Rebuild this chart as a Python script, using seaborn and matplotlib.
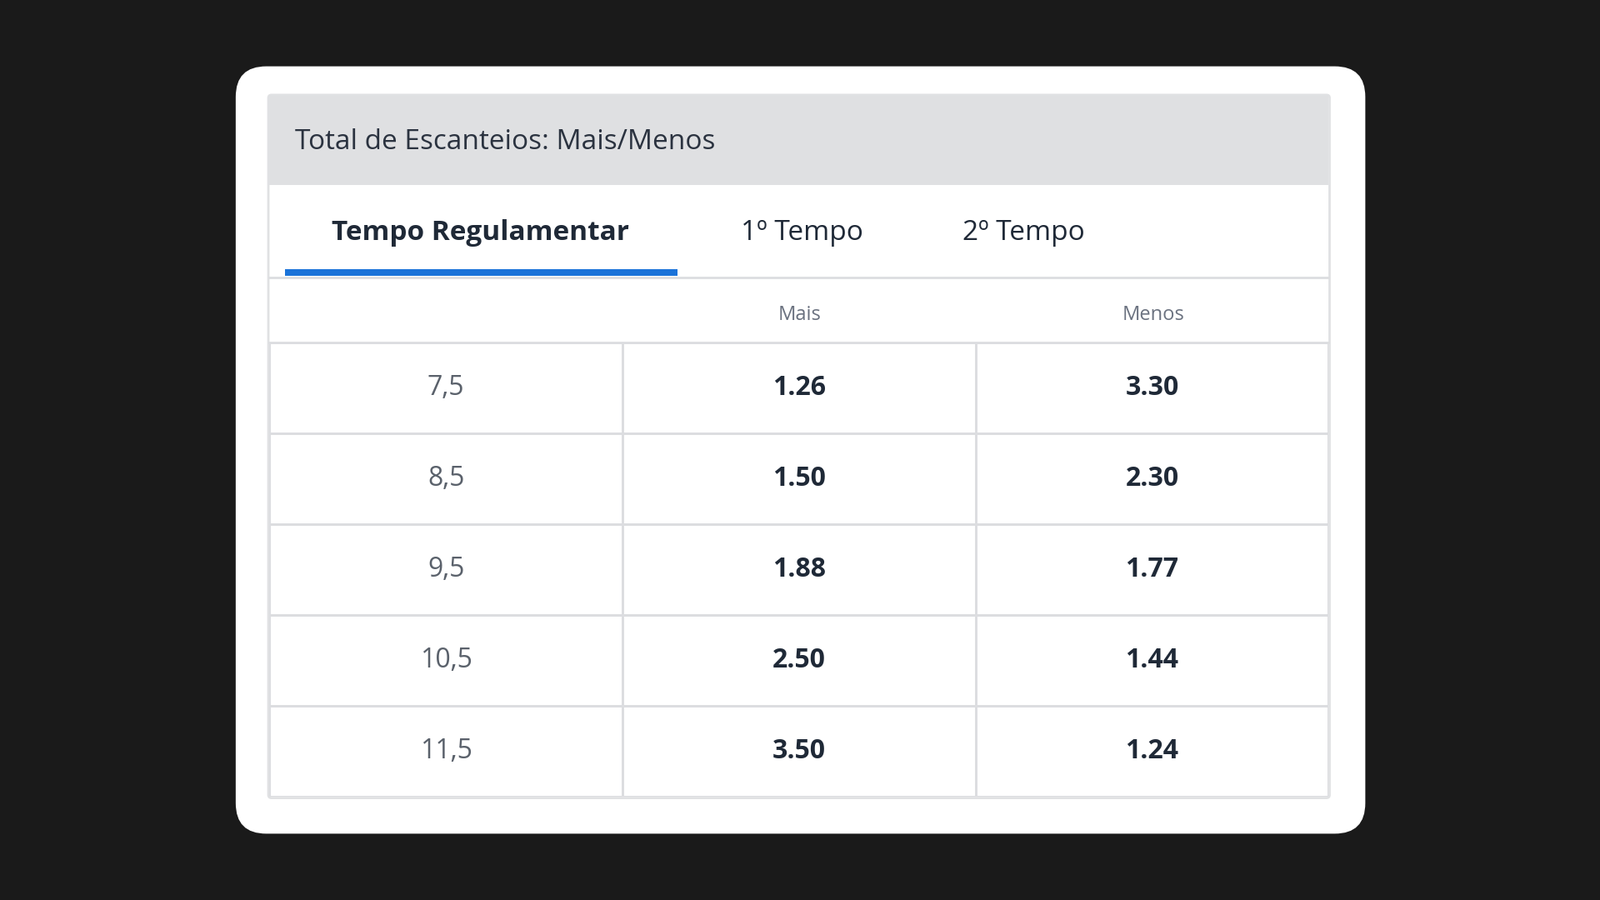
import numpy as np
import pandas as pd
import seaborn as sns
import matplotlib.pyplot as plt
from matplotlib.patches import FancyBboxPatch, Rectangle
from matplotlib.colors import ListedColormap

# Table data
title = 'Total de Escanteios: Mais/Menos'
tabs = ['Tempo Regulamentar', '1º Tempo', '2º Tempo']
columns = ['Mais', 'Menos']
lines = ['7,5', '8,5', '9,5', '10,5', '11,5']
mais = ['1.26', '1.50', '1.88', '2.50', '3.50']
menos = ['3.30', '2.30', '1.77', '1.44', '1.24']

sns.set_theme(style='white', font='Open Sans')
W, H = 1568, 882

fig = plt.figure(figsize=(19.2, 10.8), dpi=100, facecolor='#1a1a1a')
ax = fig.add_axes([0, 0, 1, 1])
ax.set_xlim(0, W)
ax.set_ylim(H, 0)
ax.axis('off')

# card and panel
ax.add_patch(FancyBboxPatch((231 + 30, 65 + 30), 1107 - 60, 752 - 60,
                            boxstyle='round,pad=30', fc='white', ec='none'))
ax.add_patch(FancyBboxPatch((266, 96), 1034, 683, boxstyle='round,pad=3',
                            fc='white', ec='#e0e1e3', lw=2))
ax.add_patch(Rectangle((264, 94), 1038, 87, fc='#dfe0e2', ec='none'))
ax.text(289, 139, title, fontsize=24, color='#2b3340', va='center', ha='left')

# tabs
tab_x = [471, 786, 1003]
for i, (t, x) in enumerate(zip(tabs, tab_x)):
    ax.text(x, 228, t, fontsize=24, ha='center', va='center', color='#1f2937',
            fontweight='bold' if i == 0 else 'normal')
ax.plot([264, 1302], [272, 272], color='#dcdde0', lw=2)
ax.add_patch(Rectangle((279, 264), 385, 6, fc='#1a73d9', ec='none'))
for c, x in zip(columns, [784, 1130]):
    ax.text(x, 309, c, fontsize=17, ha='center', va='center', color='#6b7280')
ax.plot([264, 1302], [336, 336], color='#dcdde0', lw=2)

# table body via seaborn heatmap
tax = fig.add_axes([264 / W, 1 - 781 / H, 1038 / W, 445 / H])
grid = pd.DataFrame(np.zeros((len(lines), 3)))
sns.heatmap(grid, ax=tax, cmap=ListedColormap(['white']), cbar=False,
            linewidths=2, linecolor='#dcdde0', xticklabels=False, yticklabels=False)
for r in range(len(lines)):
    tax.text(0.5, r + 0.5, lines[r], fontsize=23, ha='center', va='center', color='#5a616b')
    tax.text(1.5, r + 0.5, mais[r], fontsize=23, ha='center', va='center',
             color='#1f2937', fontweight='bold')
    tax.text(2.5, r + 0.5, menos[r], fontsize=23, ha='center', va='center',
             color='#1f2937', fontweight='bold')
for s in tax.spines.values():
    s.set_visible(False)

fig.savefig('out.png', dpi=100, facecolor=fig.get_facecolor())
